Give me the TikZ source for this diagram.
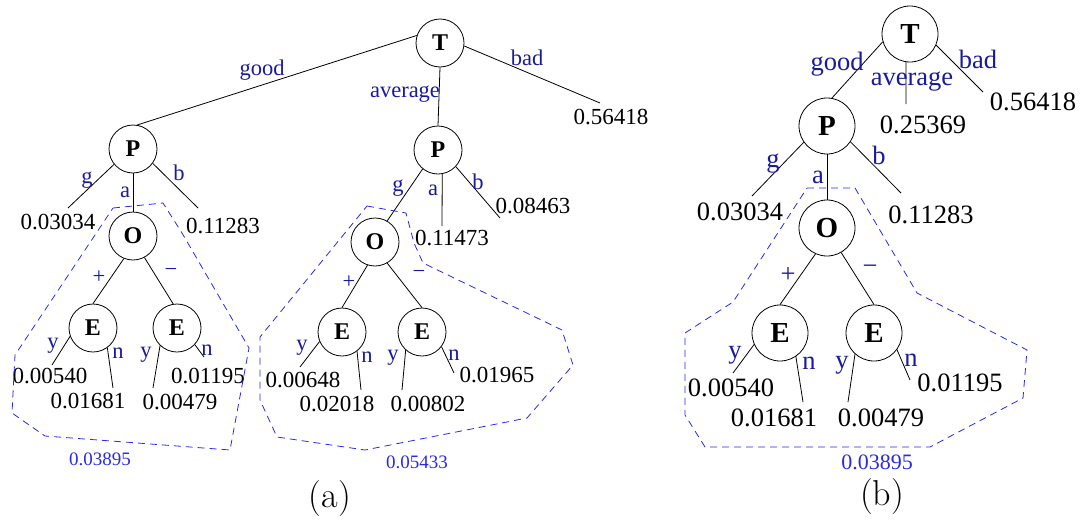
\documentclass[tikz,border=0pt]{standalone}
\usepackage{fontspec}
\newfontfamily\tms{Liberation Serif}
\usepackage{tikz}
\usetikzlibrary{positioning, calc}
\usepackage{xcolor}
\definecolor{lblblue}{HTML}{1A1A9C}
\definecolor{sumblue}{HTML}{2A2AE8}
\definecolor{regblue}{HTML}{2828F4}

\begin{document}
\begin{tikzpicture}[
  x=1pt, y=-1pt,
  vtx/.style={circle, draw, line width=0.8pt, minimum size=48pt, inner sep=0pt,
    font=\fontsize{24}{24}\tms\bfseries},
  vtxb/.style={vtx, minimum size=56pt, font=\fontsize{29}{29}\tms\bfseries},
  val/.style={inner sep=0pt, font=\fontsize{23}{23}\tms},
  valb/.style={val, font=\fontsize{26.5}{26.5}\tms},
  lbl/.style={inner sep=0pt, text=lblblue, font=\fontsize{22.5}{22.5}\tms},
  lblb/.style={lbl, font=\fontsize{26.5}{26.5}\tms},
  sumlbl/.style={inner sep=0pt, text=sumblue, font=\fontsize{19}{19}\tms},
  sumlblb/.style={sumlbl, font=\fontsize{22}{22}\tms},
  caplbl/.style={inner sep=0pt, font=\fontsize{36}{36}\selectfont},
  branch/.style={line width=0.8pt},
  region/.style={draw=regblue, line width=0.8pt, dash pattern=on 7pt off 5pt}
]
  \useasboundingbox (0,0) rectangle (1083,525);

  % ---------- tree (a) ----------
  \node[vtx] (aT)   at (440,43)  {T};
  \node[vtx] (aP1)  at (133,149) {P};
  \node[vtx] (aP2)  at (438,150) {P};
  \node[vtx] (aO1)  at (133,236) {O};
  \node[vtx] (aO2)  at (375,242) {O};
  \node[vtx] (aE11) at (93,328)  {E};
  \node[vtx] (aE12) at (177,328) {E};
  \node[vtx] (aE21) at (342,332) {E};
  \node[vtx] (aE22) at (422,332) {E};

  \coordinate (aBad)  at (600,103);
  \coordinate (aP1g)  at (68,208);
  \coordinate (aP1b)  at (198,208);
  \coordinate (aP2a)  at (442,226);
  \coordinate (aP2b)  at (500,218);
  \coordinate (aE11y) at (52,365);
  \coordinate (aE11n) at (113,388);
  \coordinate (aE12y) at (153,388);
  \coordinate (aE12n) at (204,357);
  \coordinate (aE21y) at (300,367);
  \coordinate (aE21n) at (361,390);
  \coordinate (aE22y) at (402,390);
  \coordinate (aE22n) at (454,373);

  \draw[branch] (aT.162) -- (aP1.80);
  \draw[branch] (aT.south) -- (aP2.north);
  \draw[branch] (aT.-7) -- (aBad);
  \draw[branch] (aP1.219) -- (aP1g);
  \draw[branch] (aP1.south) -- (aO1.north);
  \draw[branch] (aP1.-36) -- (aP1b);
  \draw[branch] (aO1.-112) -- (aE11.north);
  \draw[branch] (aO1.-62) -- (aE12.99);
  \draw[branch] (aE11.200) -- (aE11y);
  \draw[branch] (aE11.-54) -- (aE11n);
  \draw[branch] (aE12.226) -- (aE12y);
  \draw[branch] (aE12.-43) -- (aE12n);
  \draw[branch] (aP2.231) -- (aO2.60);
  \draw[branch] (aP2.-80) -- (aP2a);
  \draw[branch] (aP2.-43) -- (aP2b);
  \draw[branch] (aO2.-108) -- (aE21.north);
  \draw[branch] (aO2.-60) -- (aE22.north);
  \draw[branch] (aE21.203) -- (aE21y);
  \draw[branch] (aE21.-52) -- (aE21n);
  \draw[branch] (aE22.228) -- (aE22y);
  \draw[branch] (aE22.-37) -- (aE22n);

  \node[lbl] (aLgood) at (262,70)  {good};
  \node[lbl] (aLavg)  at (405,94)  {average};
  \node[lbl] (aLbad)  at (527,58)  {bad};
  \node[lbl] at (87,180)  {g};
  \node[lbl] at (125,192) {a};
  \node[lbl] at (179,173) {b};
  \node[lbl] at (99,277)  {+};
  \node[lbl] at (171,272) {−};
  \node[lbl] at (53,346)  {y};
  \node[lbl] at (118,353) {n};
  \node[lbl] at (146,355) {y};
  \node[lbl] at (207,350) {n};
  \node[lbl] at (398,188) {g};
  \node[lbl] at (433,190) {a};
  \node[lbl] at (478,182) {b};
  \node[lbl] at (349,282) {+};
  \node[lbl] at (419,274) {−};
  \node[lbl] at (302,348) {y};
  \node[lbl] at (367,357) {n};
  \node[lbl] at (393,358) {y};
  \node[lbl] at (454,355) {n};

  \node[val] (aVbad)  at (611,117) {0.56418};
  \node[val] (aVP1g)  at (58,222)  {0.03034};
  \node[val] (aVP1b)  at (223,226) {0.11283};
  \node[val] (aVP2a)  at (452,238) {0.11473};
  \node[val] (aVP2b)  at (533,206) {0.08463};
  \node[val] (aVE11y) at (50,376)  {0.00540};
  \node[val] (aVE11n) at (88,401)  {0.01681};
  \node[val] (aVE12y) at (180,402) {0.00479};
  \node[val] (aVE12n) at (208,376) {0.01195};
  \node[val] (aVE21y) at (303,380) {0.00648};
  \node[val] (aVE21n) at (337,404) {0.02018};
  \node[val] (aVE22y) at (428,404) {0.00802};
  \node[val] (aVE22n) at (497,375) {0.01965};

  % subtrees that are summed up
  \draw[region] (113,208) -- (163,203) -- (182,233) -- (249,348) -- (230,450)
    -- (45,436) -- (12,413) -- (15,355) -- cycle;
  \node[sumlbl] (aS1) at (100,459) {0.03895};
  \draw[region] (367,206) -- (406,213) -- (414,243) -- (423,263) -- (562,330)
    -- (573,365) -- (527,418) -- (365,450) -- (277,437) -- (260,400)
    -- (260,337) -- cycle;
  \node[sumlbl] (aS2) at (417,462) {0.05433};

  \node[caplbl] (capA) at (330,499) {(a)};

  % ---------- tree (b) ----------
  \node[vtxb] (bT)  at (910,34)  {T};
  \node[vtxb] (bP)  at (827,126) {P};
  \node[vtxb] (bO)  at (827,228) {O};
  \node[vtxb] (bE1) at (780,333) {E};
  \node[vtxb] (bE2) at (874,333) {E};

  \coordinate (bAvg) at (906,104);
  \coordinate (bBad) at (983,92);
  \coordinate (bPg)  at (752,196);
  \coordinate (bPb)  at (901,193);
  \coordinate (bE1y) at (733,373);
  \coordinate (bE1n) at (803,402);
  \coordinate (bE2y) at (848,402);
  \coordinate (bE2n) at (910,380);

  \draw[branch] (bT.196) -- (bP.80);
  \draw[branch] (bT.-98) -- (bAvg);
  \draw[branch] (bT.-23) -- (bBad);
  \draw[branch] (bP.215) -- (bPg);
  \draw[branch] (bP.south) -- (bO.north);
  \draw[branch] (bP.-34) -- (bPb);
  \draw[branch] (bO.-114) -- (bE1.north);
  \draw[branch] (bO.-60) -- (bE2.north);
  \draw[branch] (bE1.204) -- (bE1y);
  \draw[branch] (bE1.-56) -- (bE1n);
  \draw[branch] (bE2.228) -- (bE2y);
  \draw[branch] (bE2.-36) -- (bE2n);

  \node[lblb] at (837,64)  {good};
  \node[lblb] at (912,82)  {average};
  \node[lblb] at (978,59)  {bad};
  \node[lblb] at (773,164) {g};
  \node[lblb] at (818,177) {a};
  \node[lblb] at (879,155) {b};
  \node[lblb] at (788,275) {+};
  \node[lblb] at (870,270) {−};
  \node[lblb] at (735,355) {y};
  \node[lblb] at (809,363) {n};
  \node[lblb] at (842,365) {y};
  \node[lblb] at (911,360) {n};

  \node[valb] (bVavg) at (923,125)  {0.25369};
  \node[valb] (bVbad) at (1033,102) {0.56418};
  \node[valb] (bVPg)  at (740,212)  {0.03034};
  \node[valb] (bVPb)  at (931,215)  {0.11283};
  \node[valb] (bVE1y) at (731,388)  {0.00540};
  \node[valb] (bVE1n) at (774,418)  {0.01681};
  \node[valb] (bVE2y) at (881,418)  {0.00479};
  \node[valb] (bVE2n) at (960,383)  {0.01195};

  \draw[region] (807,188) -- (855,188) -- (917,293) -- (1027,350) -- (1023,398)
    -- (930,447) -- (705,447) -- (685,415) -- (685,333) -- (733,302) -- cycle;
  \node[sumlblb] (bS) at (877,462) {0.03895};

  \node[caplbl] (capB) at (882,497) {(b)};
\end{tikzpicture}
\end{document}
